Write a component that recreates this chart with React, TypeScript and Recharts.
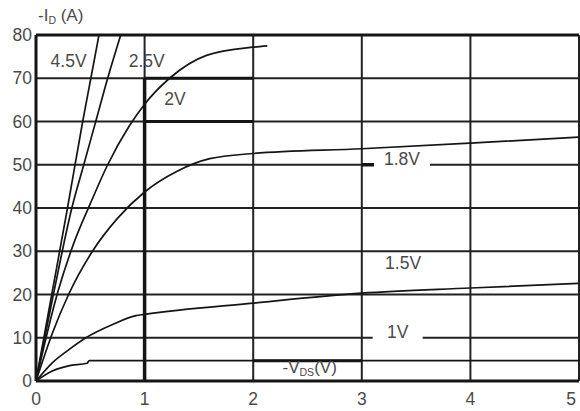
import { CartesianGrid, Label, Line, LineChart, ReferenceDot, ReferenceLine, XAxis, YAxis } from "recharts";

// -VDS (V) vs -ID (A), one curve per gate voltage
const xTicks = [0, 1, 2, 3, 4, 5];
const yTicks = [0, 10, 20, 30, 40, 50, 60, 70, 80];

const vgs45 = [
  { vds: 0, id: 0 }, { vds: 0.145, id: 20 }, { vds: 0.29, id: 40 }, { vds: 0.43, id: 60 },
  { vds: 0.505, id: 70 }, { vds: 0.58, id: 80 },
];
const vgs25 = [
  { vds: 0, id: 0 }, { vds: 0.16, id: 20 }, { vds: 0.33, id: 40 }, { vds: 0.44, id: 50 },
  { vds: 0.55, id: 60 }, { vds: 0.66, id: 70 }, { vds: 0.78, id: 80 },
];
const vgs20 = [
  { vds: 0, id: 0 }, { vds: 0.2, id: 20.5 }, { vds: 0.35, id: 32 }, { vds: 0.5, id: 41 },
  { vds: 0.66, id: 50 }, { vds: 0.86, id: 59 }, { vds: 1.0, id: 64 }, { vds: 1.23, id: 70 },
  { vds: 1.57, id: 75.3 }, { vds: 2.0, id: 77.2 }, { vds: 2.13, id: 77.5 },
];
const vgs18 = [
  { vds: 0, id: 0 }, { vds: 0.15, id: 11 }, { vds: 0.3, id: 20 }, { vds: 0.52, id: 30 },
  { vds: 0.75, id: 37.6 }, { vds: 1.0, id: 43.7 }, { vds: 1.3, id: 48.5 }, { vds: 1.6, id: 51.4 },
  { vds: 2, id: 52.6 }, { vds: 3, id: 53.7 }, { vds: 4, id: 55 }, { vds: 5, id: 56.4 },
];
const vgs15 = [
  { vds: 0, id: 0 }, { vds: 0.15, id: 4.2 }, { vds: 0.3, id: 7.2 }, { vds: 0.46, id: 10 },
  { vds: 0.7, id: 13 }, { vds: 0.92, id: 15.1 }, { vds: 1, id: 15.4 }, { vds: 2, id: 18 },
  { vds: 3, id: 20.3 }, { vds: 4, id: 21.5 }, { vds: 5, id: 22.6 },
];
const vgs10 = [
  { vds: 0, id: 0 }, { vds: 0.15, id: 2.3 }, { vds: 0.3, id: 3.5 }, { vds: 0.47, id: 4.1 },
  { vds: 0.49, id: 4.7 }, { vds: 5, id: 4.7 },
];

const series = [vgs45, vgs25, vgs20, vgs18, vgs15, vgs10];

const FONT = "'Liberation Sans', Arial, sans-serif";
const TXT = "#4a4a4a";
const INK = "#151515";

type Part = { t: string; sub?: boolean };

// label drawn centred on a ReferenceDot, optionally with a white box to cut the grid line
const tag = (parts: Part[], bgW = 0, bgH = 0, size = 17.5) => (props: any) => {
  const vb = props.viewBox;
  const cx = vb.x + vb.width / 2;
  const cy = vb.y + vb.height / 2;
  let dy = 0;
  return (
    <g>
      {bgW > 0 && <rect x={cx - bgW / 2} y={cy - bgH / 2} width={bgW} height={bgH} fill="#fff" />}
      <text x={cx} y={cy} dy={6} textAnchor="middle" fontFamily={FONT} fontSize={size} fill={TXT}>
        {parts.map((p, i) => {
          const shift = p.sub ? 3 - dy : -dy;
          dy = p.sub ? 3 : 0;
          return (
            <tspan key={i} dy={shift} fontSize={p.sub ? size * 0.62 : size}>
              {p.t}
            </tspan>
          );
        })}
      </text>
    </g>
  );
};

const title = (props: any) => {
  const vb = props.viewBox;
  return (
    <text x={vb.x + 2} y={vb.y - 14} fontFamily={FONT} fontSize={17} fill={TXT}>
      <tspan>-I</tspan>
      <tspan dy={3} fontSize={10.5}>D</tspan>
      <tspan dy={-3}> (A)</tspan>
    </text>
  );
};

const YTick = ({ y, payload }: any) => (
  <text x={32} y={y} dy={6} textAnchor="end" fontFamily={FONT} fontSize={17.5} fill={TXT}>
    {payload.value}
  </text>
);

const XTick = ({ x, payload }: any) => (
  <text x={Math.min(x, 571)} y={405} textAnchor="middle" fontFamily={FONT} fontSize={17.5} fill={TXT}>
    {payload.value}
  </text>
);

export default function App() {
  return (
    <div style={{ position: "absolute", left: 0, top: 0, background: "#fff" }}>
      <LineChart width={580} height={411} margin={{ top: 35, right: 1, bottom: 0, left: 0 }}>
        <CartesianGrid stroke="#222" strokeWidth={2} />
        <XAxis
          type="number"
          dataKey="vds"
          domain={[0, 5]}
          ticks={xTicks}
          height={30}
          tick={<XTick />}
          tickLine={false}
          axisLine={{ stroke: INK, strokeWidth: 3 }}
        />
        <YAxis
          type="number"
          domain={[0, 80]}
          ticks={yTicks}
          width={36}
          tick={<YTick />}
          tickLine={false}
          axisLine={{ stroke: INK, strokeWidth: 3 }}
        />
        <ReferenceLine y={80} stroke={INK} strokeWidth={3} />
        <ReferenceLine segment={[{ x: 1, y: 0 }, { x: 1, y: 70 }]} stroke={INK} strokeWidth={3.5} />
        <ReferenceLine segment={[{ x: 1, y: 70 }, { x: 2, y: 70 }]} stroke={INK} strokeWidth={3} />
        <ReferenceLine segment={[{ x: 1, y: 60 }, { x: 2, y: 60 }]} stroke={INK} strokeWidth={3} />
        <ReferenceLine segment={[{ x: 2, y: 4.7 }, { x: 3, y: 4.7 }]} stroke={INK} strokeWidth={3} />
        <ReferenceLine segment={[{ x: 3, y: 50 }, { x: 3.13, y: 50 }]} stroke={INK} strokeWidth={3.5} />
        {series.map((d, i) => (
          <Line
            key={i}
            data={d}
            dataKey="id"
            type="monotone"
            stroke={INK}
            strokeWidth={1.7}
            dot={false}
            activeDot={false}
            isAnimationActive={false}
          />
        ))}
        <ReferenceDot x={0} y={80} r={0} fill="none" stroke="none">
          <Label content={title} />
        </ReferenceDot>
        <ReferenceDot x={0.3} y={72.6} r={0} fill="none" stroke="none">
          <Label content={tag([{ t: "4.5V" }])} />
        </ReferenceDot>
        <ReferenceDot x={1.02} y={72.6} r={0} fill="none" stroke="none">
          <Label content={tag([{ t: "2.5V" }])} />
        </ReferenceDot>
        <ReferenceDot x={1.28} y={63.7} r={0} fill="none" stroke="none">
          <Label content={tag([{ t: "2V" }])} />
        </ReferenceDot>
        <ReferenceDot x={3.37} y={50} r={0} fill="none" stroke="none">
          <Label content={tag([{ t: "1.8V" }], 56, 14)} />
        </ReferenceDot>
        <ReferenceDot x={3.38} y={25.8} r={0} fill="none" stroke="none">
          <Label content={tag([{ t: "1.5V" }])} />
        </ReferenceDot>
        <ReferenceDot x={3.33} y={10} r={0} fill="none" stroke="none">
          <Label content={tag([{ t: "1V" }], 50, 14)} />
        </ReferenceDot>
        <ReferenceDot x={2.52} y={1.9} r={0} fill="none" stroke="none">
          <Label content={tag([{ t: "-V" }, { t: "DS", sub: true }, { t: "(V)" }], 0, 0, 17)} />
        </ReferenceDot>
      </LineChart>
    </div>
  );
}
